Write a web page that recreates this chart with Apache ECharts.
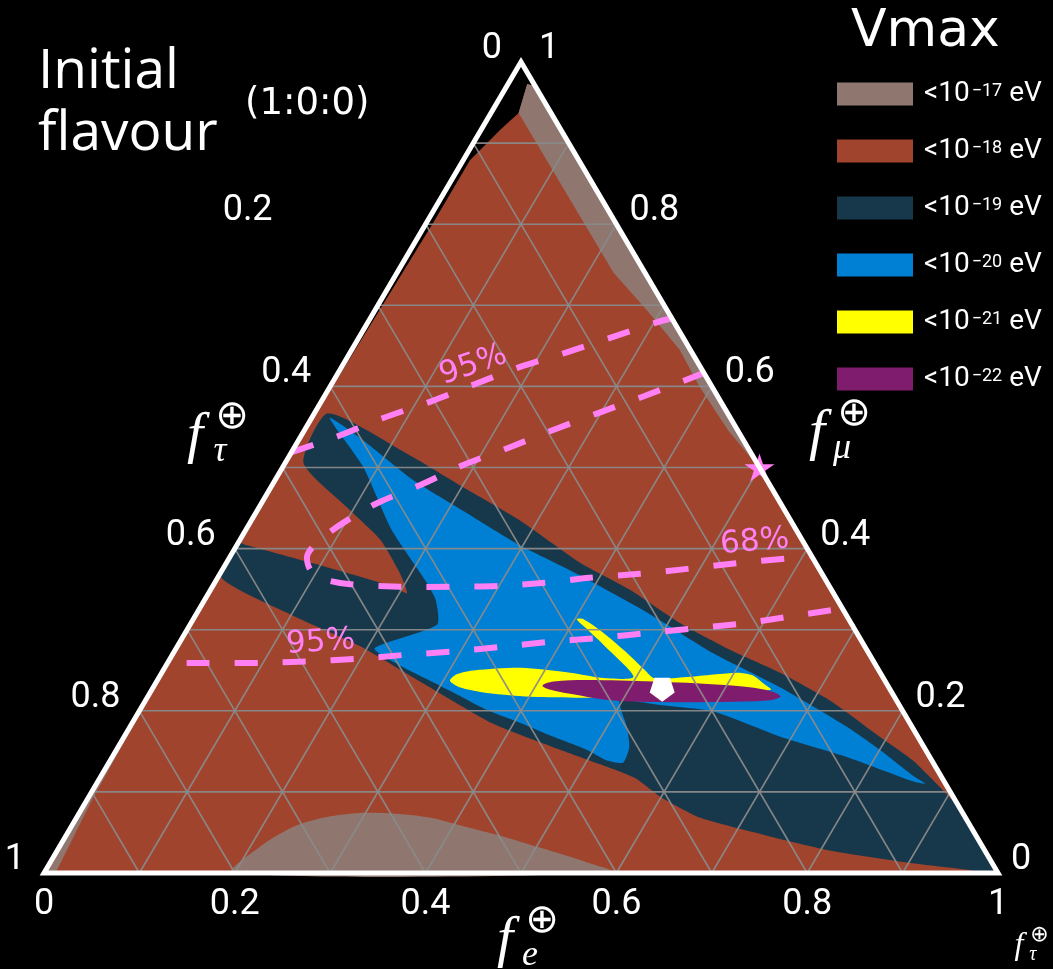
<!DOCTYPE html>
<html>
<head>
<meta charset="utf-8">
<script src="https://cdn.jsdelivr.net/npm/echarts@6/dist/echarts.min.js"></script>
<style>
  html, body { margin: 0; padding: 0; background: #000; }
  #chart { width: 1053px; height: 969px; }
</style>
</head>
<body>
<div id="chart"></div>
<script>
// Every point below is a ternary composition [f_e, f_mu]; f_tau = 1 - f_e - f_mu.

// Whole mapped domain (Vmax < 1e-18 eV)
const domainArea = [[0.020,0.973],[0.030,0.970],[1,0],[0,0],[0,0.485],[0.007,0.801],[0.007,0.879],[0.020,0.916],[0.029,0.937]];

// Vmax < 1e-17 eV pieces
const grayEdgeStrip = [[0.020,0.973],[0.030,0.970],[0.503,0.497],[0.444,0.546],[0.387,0.600],[0.344,0.645],
  [0.285,0.694],[0.227,0.740],[0.029,0.937]];
const grayHump = [[0.198,0],[0.210,0.032],[0.233,0.057],[0.262,0.069],[0.294,0.074],[0.332,0.073],[0.371,0.068],
  [0.413,0.057],[0.455,0.046],[0.505,0.031],[0.560,0.014],[0.599,0]];
const grayCorner = [[0,0],[0.012,0],[0.005,0.094],[0,0.300]];

// Vmax < 1e-19 eV
const navyArea = [[0.014,0.567],[0.130,0.513],[0.201,0.476],[0.281,0.435],[0.370,0.383],[0.440,0.349],[0.513,0.308],
  [0.582,0.275],[0.648,0.247],[0.717,0.213],[0.792,0.168],[0.841,0.139],[0.886,0.106],[0.925,0.075],[1,0],[0.986,0],
  [0.966,0.004],[0.891,0.014],[0.813,0.027],[0.735,0.046],[0.654,0.068],[0.599,0.094],[0.561,0.117],[0.516,0.134],
  [0.465,0.152],[0.379,0.184],[0.286,0.231],[0.191,0.280],[0.103,0.317],[0.004,0.364],[0,0.407],[0.011,0.404],
  [0.108,0.377],[0.190,0.353],[0.208,0.345],[0.188,0.370],[0.147,0.411],[0.092,0.451],[0.019,0.506]];

// Vmax < 1e-20 eV
const blueArea = [[0.019,0.561],[0.067,0.534],[0.144,0.485],[0.221,0.444],[0.297,0.404],[0.378,0.367],[0.472,0.321],
  [0.566,0.271],[0.657,0.229],[0.752,0.180],[0.800,0.152],[0.851,0.120],[0.869,0.110],[0.854,0.113],[0.770,0.143],
  [0.688,0.168],[0.602,0.199],[0.542,0.207],[0.497,0.213],[0.506,0.199],[0.521,0.180],[0.536,0.155],[0.539,0.136],
  [0.520,0.139],[0.493,0.152],[0.450,0.168],[0.407,0.185],[0.364,0.201],[0.317,0.223],[0.282,0.239],[0.245,0.256],
  [0.208,0.277],[0.259,0.306],[0.242,0.337],[0.219,0.361],[0.153,0.423],[0.084,0.501]];

// Vmax < 1e-21 eV
const yellowArea = [[0.307,0.237],[0.310,0.245],[0.327,0.250],[0.373,0.253],[0.428,0.247],[0.470,0.240],[0.497,0.242],
  [0.449,0.279],[0.417,0.302],[0.402,0.313],[0.409,0.313],[0.437,0.297],[0.473,0.273],[0.505,0.250],[0.520,0.240],
  [0.556,0.242],[0.603,0.247],[0.620,0.244],[0.640,0.232],[0.649,0.226],[0.618,0.223],[0.497,0.215],[0.461,0.216],
  [0.408,0.217],[0.353,0.222],[0.321,0.229]];

// Vmax < 1e-22 eV
const purpleArea = [[0.407,0.231],[0.416,0.236],[0.450,0.238],[0.521,0.236],[0.593,0.232],[0.643,0.226],[0.663,0.218],
  [0.654,0.213],[0.603,0.211],[0.530,0.211],[0.487,0.213],[0.441,0.221],[0.418,0.226]];

// Confidence contours of the measured flavour composition
const contour95Upper = [[0,0.519],[0.038,0.538],[0.075,0.561],[0.114,0.581],[0.149,0.602],[0.187,0.624],[0.227,0.642],
  [0.266,0.661],[0.303,0.679],[0.316,0.684]];
const contour68 = [[0.384,0.617],[0.337,0.589],[0.299,0.568],[0.260,0.546],[0.226,0.525],[0.188,0.503],[0.155,0.478],
  [0.121,0.456],[0.098,0.432],[0.084,0.411],[0.080,0.392],[0.092,0.374],[0.110,0.363],[0.143,0.356],[0.197,0.353],
  [0.249,0.353],[0.301,0.354],[0.346,0.358],[0.390,0.364],[0.440,0.369],[0.487,0.375],[0.535,0.382],[0.585,0.388],
  [0.608,0.392]];
const contour95Lower = [[0.020,0.259],[0.097,0.259],[0.146,0.261],[0.196,0.264],[0.244,0.269],[0.292,0.273],[0.341,0.279],
  [0.388,0.285],[0.438,0.290],[0.485,0.296],[0.534,0.302],[0.581,0.308],[0.627,0.317],[0.674,0.326]];
const contourLabelText = ['95%', '95%', '68%'];
const contourLabelAt = [[0.137,0.626],[0.148,0.284],[0.541,0.408]];
const contourLabelAngle = [19, 4, 5];

const starPoint = [0.5, 0.5];        // (1/2 : 1/2 : 0)
const bestFitPoint = [0.535, 0.226];

const tickValues = [0, 0.2, 0.4, 0.6, 0.8, 1];
const tickLabels = ['0', '0.2', '0.4', '0.6', '0.8', '1'];
const gridSteps = [0.1, 0.2, 0.3, 0.4, 0.5, 0.6, 0.7, 0.8, 0.9];

const legendExponents = ['17', '18', '19', '20', '21', '22'];

// ---- styling ----
const PALETTE = ['#8f7770', '#a0442d', '#17374b', '#0080d4', '#ffff00', '#801c6e'];
const PINK = '#ff80f4';
const seriesNames = legendExponents.map(e => 'Vmax < 1e-' + e + ' eV');

// ternary [f_e, f_mu] -> cartesian position in the unit frame
const toXY = p => [p[0] + p[1] / 2, p[1]];

function areaSeries(idx, polys, smooth, z) {
  return {
    name: seriesNames[idx], type: 'custom', coordinateSystem: 'cartesian2d', z, silent: true,
    itemStyle: { color: PALETTE[idx] },
    data: polys.map(() => [0.5, 0.5]),
    renderItem: (params, api) => ({
      type: 'polygon',
      shape: {
        points: polys[params.dataIndex].map(p => api.coord(toXY(p))),
        smooth: Array.isArray(smooth) ? smooth[params.dataIndex] : smooth
      },
      style: { fill: PALETTE[idx] }
    })
  };
}

const gridSegments = [];
gridSteps.forEach(k => {
  gridSegments.push([[0, k], [1 - k, k]]);   // constant f_mu
  gridSegments.push([[k, 0], [k, 1 - k]]);   // constant f_e
  gridSegments.push([[1 - k, 0], [0, 1 - k]]); // constant f_tau
});

// tick label layout per side: anchor on the edge plus a pixel nudge
const tickItems = [];
tickValues.forEach((v, i) => {
  tickItems.push({ at: [v, 0], text: tickLabels[i], dx: 0, dy: 32, align: 'center' });            // f_e
  tickItems.push({ at: [1 - v, v], text: tickLabels[i], dx: v === 1 ? 18 : 13, dy: -13, align: 'left' }); // f_mu
  tickItems.push({ at: [0, 1 - v], text: tickLabels[i], dx: (i === 1 ? -153 : -19), dy: -13, align: 'right' }); // f_tau
});

const contours = [contour95Upper, contour68, contour95Lower];

const starPath = 'path://M50,0L61.17,34.63L97.55,34.55L68.07,55.87L79.39,90.45L50,69L20.61,90.45L31.93,55.87L2.45,34.55L38.83,34.63Z';
const pentagonPath = 'path://M50,100L97.6,65.5L79.4,9.5L20.6,9.5L2.4,65.5Z';

function mathSymbol(x, y, s, sub) {
  const serif = '"Liberation Serif", "DejaVu Serif", serif';
  return [
    { type: 'text', x: x, y: y, z: 50, style: { text: 'f', fill: '#fff', font: 'italic ' + Math.round(58 * s) + 'px ' + serif, align: 'center', verticalAlign: 'middle' } },
    { type: 'text', x: x + 37 * s, y: y - 19 * s, z: 50, style: { text: '\u2295', fill: '#fff', font: Math.round(40 * s) + 'px "DejaVu Sans"', align: 'center', verticalAlign: 'middle' } },
    { type: 'text', x: x + 25 * s, y: y + 15 * s, z: 50, style: { text: sub, fill: '#fff', font: 'italic ' + Math.round(36 * s) + 'px ' + serif, align: 'center', verticalAlign: 'middle' } }
  ];
}

const chart = echarts.init(document.getElementById('chart'));
chart.setOption({
  backgroundColor: '#000',
  animation: false,
  title: [
    { text: 'Initial\nflavour', left: 38, top: 41, padding: 0,
      textStyle: { color: '#fff', fontSize: 55, lineHeight: 62, fontWeight: 'normal', fontFamily: '"Open Sans"' } },
    { text: '(1:0:0)', left: 245, top: 84, padding: 0,
      textStyle: { color: '#fff', fontSize: 37, lineHeight: 40, fontWeight: 'normal', fontFamily: 'DejaVu Sans' } },
    { text: 'Vmax', left: 851, top: 6, padding: 0,
      textStyle: { color: '#fff', fontSize: 52, lineHeight: 52, fontWeight: 'normal', fontFamily: 'DejaVu Sans' } }
  ],
  legend: {
    data: seriesNames, orient: 'vertical', left: 837, top: 80, padding: 0,
    itemWidth: 76, itemHeight: 23, itemGap: 29, icon: 'rect', selectedMode: false,
    formatter: name => '{b|<10}{s|\u2212' + legendExponents[seriesNames.indexOf(name)] + '}{e| eV}',
    textStyle: {
      color: '#fff',
      rich: {
        b: { color: '#fff', fontSize: 28, lineHeight: 23, fontFamily: 'Roboto', padding: [0, 0, 0, 6] },
        s: { color: '#fff', fontSize: 18, lineHeight: 14, fontFamily: 'Roboto', verticalAlign: 'top', padding: [0, 0, 0, 2] },
        e: { color: '#fff', fontSize: 28, lineHeight: 23, fontFamily: 'Roboto' }
      }
    }
  },
  grid: { left: 44, top: 62, width: 954, height: 811 },
  xAxis: { type: 'value', min: 0, max: 1, show: false },
  yAxis: { type: 'value', min: 0, max: 1, show: false },
  graphic: [].concat(
    mathSymbol(195, 437, 1, '\u03c4'),
    mathSymbol(817, 434, 1, '\u03bc'),
    mathSymbol(505, 941, 1, 'e'),
    mathSymbol(1019, 946, 0.55, '\u03c4')
  ),
  series: [
    areaSeries(1, [domainArea], 0, 1),
    areaSeries(0, [grayEdgeStrip, grayHump, grayCorner], [0, 0.3, 0], 2),
    areaSeries(2, [navyArea], 0.2, 3),
    areaSeries(3, [blueArea], 0.2, 4),
    areaSeries(4, [yellowArea], 0.25, 5),
    areaSeries(5, [purpleArea], 0.35, 6),
    {
      type: 'custom', coordinateSystem: 'cartesian2d', z: 7, silent: true,
      data: gridSegments.map(() => [0.5, 0.5]),
      renderItem: (params, api) => {
        const s = gridSegments[params.dataIndex];
        const a = api.coord(toXY(s[0])), b = api.coord(toXY(s[1]));
        return { type: 'line', shape: { x1: a[0], y1: a[1], x2: b[0], y2: b[1] },
          style: { stroke: 'rgba(138,138,138,0.95)', lineWidth: 1.6 } };
      }
    },
    {
      type: 'custom', coordinateSystem: 'cartesian2d', z: 8, silent: true,
      data: contours.map(() => [0.5, 0.5]),
      renderItem: (params, api) => ({
        type: 'polyline',
        shape: { points: contours[params.dataIndex].map(p => api.coord(toXY(p))), smooth: 0.3 },
        style: { stroke: PINK, lineWidth: 6, lineDash: [23, 25], fill: null, lineCap: 'butt' }
      })
    },
    {
      type: 'custom', coordinateSystem: 'cartesian2d', z: 9, silent: true,
      data: contourLabelAt.map(() => [0.5, 0.5]),
      renderItem: (params, api) => {
        const i = params.dataIndex;
        const c = api.coord(toXY(contourLabelAt[i]));
        return { type: 'text', x: c[0], y: c[1], rotation: contourLabelAngle[i] * Math.PI / 180,
          style: { text: contourLabelText[i], fill: PINK, font: '31px "DejaVu Sans"', align: 'center', verticalAlign: 'middle' } };
      }
    },
    {
      type: 'scatter', z: 10, silent: true,
      data: [toXY(starPoint)], symbol: starPath, symbolSize: [30, 28],
      itemStyle: { color: PINK, opacity: 1 }
    },
    {
      type: 'custom', coordinateSystem: 'cartesian2d', z: 11, silent: true,
      data: [[0.5, 0.5]],
      renderItem: (params, api) => ({
        type: 'polygon',
        shape: { points: [[0, 0], [1, 0], [0, 1]].map(p => api.coord(toXY(p))) },
        style: { fill: null, stroke: '#fff', lineWidth: 5, lineJoin: 'miter' }
      })
    },
    {
      type: 'scatter', z: 12, silent: true,
      data: [toXY(bestFitPoint)], symbol: pentagonPath, symbolSize: [25, 24],
      itemStyle: { color: '#fff', opacity: 1 }
    },
    {
      type: 'custom', coordinateSystem: 'cartesian2d', z: 12, silent: true,
      data: tickItems.map(() => [0.5, 0.5]),
      renderItem: (params, api) => {
        const t = tickItems[params.dataIndex];
        const c = api.coord(toXY(t.at));
        return { type: 'text', x: c[0] + t.dx, y: c[1] + t.dy,
          style: { text: t.text, fill: '#fff', font: '36px Roboto', align: t.align, verticalAlign: 'middle' } };
      }
    }
  ]
});
</script>
</body>
</html>
